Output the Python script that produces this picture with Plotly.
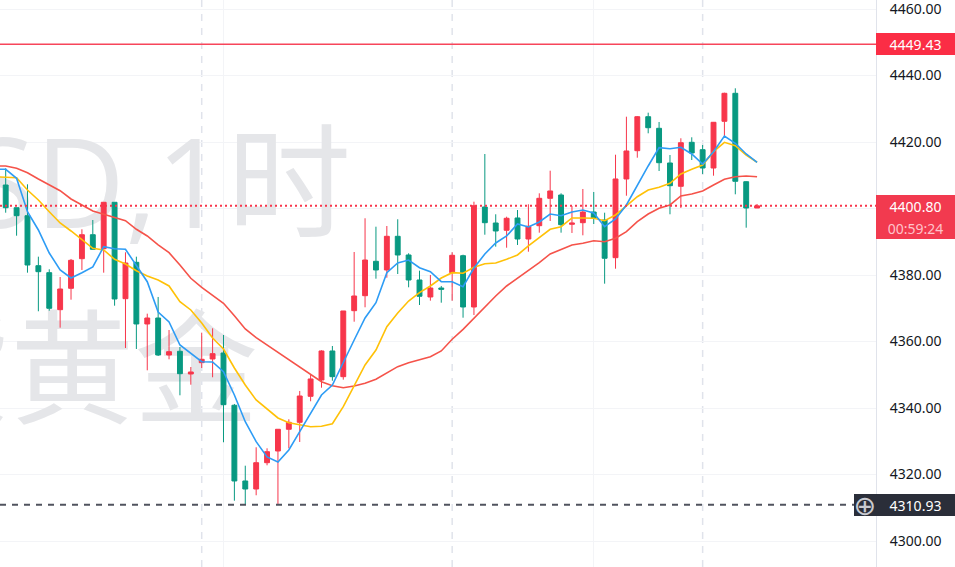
import plotly.graph_objects as go

# bar numbers, red = up, green = down
bars = list(range(70))
ma_bars = list(range(-1, 70))

opens = [4407.07, 4400.24, 4397.84, 4382.80, 4380.70, 4369.57, 4376.00, 4384.91, 4392.12, 4387.91,
         4401.87, 4372.88, 4383.82, 4365.27, 4367.07, 4355.94, 4357.06, 4350.23, 4353.63, 4354.74,
         4356.55, 4340.82, 4318.05, 4315.64, 4323.55, 4327.07, 4333.60, 4335.70, 4343.52, 4348.42,
         4357.15, 4349.42, 4369.27, 4373.78, 4384.12, 4381.51, 4391.64, 4386.02, 4378.50, 4373.39,
         4376.09, 4380.70, 4385.81, 4370.38, 4400.45, 4395.64, 4393.45, 4397.15, 4390.83, 4394.83,
         4403.07, 4404.06, 4395.25, 4395.73, 4398.95, 4396.54, 4385.21, 4408.88, 4417.39, 4427.61,
         4424.12, 4413.69, 4406.68, 4419.91, 4417.69, 4412.18, 4426.23, 4434.65, 4408.06, 4400.15]
highs = [4412.09, 4400.24, 4407.28, 4385.51, 4381.72, 4379.40, 4384.82, 4393.75, 4396.54, 4401.87,
         4401.87, 4386.83, 4385.51, 4368.37, 4373.39, 4363.46, 4358.35, 4352.33, 4362.65, 4363.97,
         4361.96, 4341.21, 4322.65, 4328.19, 4327.88, 4333.60, 4336.61, 4345.12, 4349.93, 4357.36,
         4358.65, 4369.18, 4386.92, 4397.06, 4394.53, 4394.74, 4396.76, 4386.53, 4381.30, 4380.00,
         4376.70, 4386.83, 4386.11, 4402.05, 4416.39, 4398.26, 4397.54, 4399.55, 4401.27, 4404.57,
         4411.37, 4404.57, 4400.76, 4405.87, 4404.97, 4398.74, 4416.18, 4427.61, 4427.82, 4428.82,
         4426.02, 4416.09, 4421.12, 4421.42, 4419.10, 4426.02, 4434.83, 4436.15, 4408.18, 4401.36]
lows = [4398.74, 4391.82, 4380.70, 4369.09, 4369.27, 4364.15, 4372.58, 4381.51, 4387.73, 4380.70,
        4370.77, 4358.05, 4357.75, 4351.34, 4355.64, 4354.65, 4343.82, 4347.01, 4352.03, 4349.24,
        4329.69, 4312.12, 4310.92, 4313.75, 4322.77, 4310.93, 4327.88, 4329.78, 4342.02, 4346.11,
        4348.21, 4348.52, 4365.96, 4370.29, 4378.89, 4379.19, 4380.30, 4376.30, 4370.98, 4372.28,
        4371.67, 4372.28, 4367.16, 4367.97, 4392.12, 4388.52, 4388.21, 4389.03, 4387.01, 4392.73,
        4396.24, 4392.73, 4392.64, 4391.94, 4395.34, 4377.39, 4381.90, 4403.85, 4415.28, 4422.62,
        4411.28, 4398.26, 4400.15, 4414.59, 4410.38, 4409.87, 4421.42, 4404.27, 4394.23, 4400.15]
closes = [4400.24, 4397.84, 4383.01, 4381.00, 4369.99, 4375.79, 4384.42, 4392.12, 4387.73, 4401.87,
          4372.79, 4383.61, 4365.27, 4367.07, 4355.94, 4356.94, 4350.32, 4350.83, 4354.65, 4356.34,
          4341.00, 4318.05, 4315.64, 4323.55, 4326.86, 4333.60, 4335.70, 4343.61, 4348.73, 4357.15,
          4349.42, 4369.18, 4373.69, 4384.51, 4381.51, 4391.64, 4386.02, 4378.50, 4373.60, 4376.09,
          4375.70, 4385.93, 4370.38, 4400.85, 4395.73, 4393.24, 4397.06, 4390.83, 4394.65, 4403.07,
          4405.27, 4395.13, 4395.64, 4398.95, 4397.15, 4385.03, 4408.88, 4417.30, 4427.61, 4424.30,
          4413.78, 4406.86, 4419.79, 4416.70, 4412.18, 4425.93, 4434.65, 4408.18, 4400.15, 4400.80]

ma_blue = [4411.79, 4411.79, 4409.09, 4399.04, 4393.54, 4386.62, 4381.51, 4379.10, 4380.70, 4382.41,
           4388.52, 4387.91, 4387.73, 4382.80, 4377.99, 4368.88, 4365.87, 4358.95, 4356.55, 4353.93,
           4353.84, 4350.92, 4343.91, 4335.88, 4329.87, 4325.27, 4323.76, 4327.37, 4332.88, 4338.50,
           4343.91, 4346.92, 4353.84, 4360.45, 4367.07, 4371.67, 4380.70, 4383.61, 4384.51, 4382.20,
           4381.00, 4377.99, 4377.99, 4376.49, 4382.11, 4386.32, 4389.63, 4391.73, 4395.34, 4394.44,
           4395.94, 4398.35, 4397.84, 4398.95, 4399.55, 4398.65, 4394.53, 4396.85, 4401.06, 4407.07,
           4412.79, 4418.29, 4417.99, 4418.41, 4416.39, 4413.39, 4417.09, 4421.81, 4419.61, 4416.39,
           4413.90]
ma_yellow = [4409.57, 4409.39, 4409.27, 4405.57, 4402.56, 4399.04, 4395.64, 4393.24, 4390.53, 4388.03,
             4387.52, 4384.73, 4383.31, 4381.30, 4379.70, 4378.50, 4376.70, 4371.97, 4369.48, 4365.57,
             4361.06, 4357.75, 4352.03, 4346.92, 4342.41, 4339.70, 4337.00, 4335.58, 4334.89, 4334.38,
             4334.50, 4335.28, 4340.40, 4346.92, 4352.94, 4357.45, 4364.46, 4368.58, 4372.18, 4374.68,
             4376.70, 4379.10, 4380.70, 4380.52, 4382.32, 4383.40, 4383.61, 4384.73, 4386.02, 4388.73,
             4391.34, 4393.75, 4394.53, 4397.15, 4397.15, 4397.06, 4396.34, 4398.05, 4400.76, 4403.55,
             4405.57, 4406.38, 4407.58, 4410.38, 4411.79, 4413.09, 4417.09, 4419.91, 4418.89, 4416.09,
             4413.90]
ma_red = [4412.79, 4412.79, 4412.09, 4410.77, 4408.88, 4407.07, 4405.36, 4402.86, 4401.06, 4399.25,
          4398.26, 4397.24, 4396.34, 4393.75, 4391.73, 4389.03, 4386.71, 4383.01, 4379.01, 4376.30,
          4373.99, 4371.49, 4367.76, 4363.76, 4361.15, 4358.95, 4356.64, 4354.44, 4352.25, 4349.93,
          4347.91, 4346.71, 4346.11, 4346.62, 4347.43, 4348.64, 4350.62, 4352.43, 4353.63, 4354.53,
          4355.43, 4357.15, 4360.67, 4363.67, 4366.98, 4370.47, 4373.69, 4376.70, 4379.01, 4381.51,
          4383.70, 4386.32, 4387.73, 4389.03, 4389.54, 4390.32, 4390.02, 4391.04, 4393.03, 4396.03,
          4398.35, 4400.06, 4401.06, 4403.76, 4404.36, 4405.27, 4407.07, 4408.79, 4409.57, 4409.78,
          4409.57]

price_ticks = [4300, 4320, 4340, 4360, 4380, 4400, 4420, 4440, 4460]
grid_bars = [20, 54]
session_bars = [18, 41, 64]

high_price = 4449.43
last_price = 4400.80
low_price = 4310.93
countdown = "00:59:24"

watermark_text = ["XAUUSD,", "1时", "现货黄金"]

RED = "#f7364b"
GREEN = "#089981"
GRID = "#f3f4f7"
AXIS = "#e0e3eb"
X_RANGE = [-0.523, 79.92]
Y_RANGE = [4292.18, 4462.71]
DOMAIN = [0, 876 / 955]

fig = go.Figure()

# watermark sits on the base axes so the candles on the overlay go over it
fig.add_trace(go.Scatter(
    x=[13.9, 31.7, 23.2], y=[4403.5, 4403.5, 4347.5],
    mode="text", text=watermark_text, textposition="middle left",
    textfont=dict(family="Open Sans, Noto Sans CJK SC", size=124, color="#e5e6e9"),
    hoverinfo="skip", showlegend=False))

fig.add_trace(go.Candlestick(
    x=bars, open=opens, high=highs, low=lows, close=closes,
    xaxis="x2", yaxis="y2", whiskerwidth=0, showlegend=False,
    increasing=dict(line=dict(color=RED, width=1), fillcolor=RED),
    decreasing=dict(line=dict(color=GREEN, width=1), fillcolor=GREEN)))

for values, color in [(ma_red, "#f5534a"), (ma_yellow, "#ffc107"), (ma_blue, "#2d9cf5")]:
    fig.add_trace(go.Scatter(
        x=ma_bars, y=values, mode="lines", xaxis="x2", yaxis="y2",
        line=dict(color=color, width=1.6), hoverinfo="skip", showlegend=False))

shapes = []
for b in session_bars:
    shapes.append(dict(type="line", layer="below", xref="x", yref="paper", x0=b, x1=b, y0=0, y1=1,
                       line=dict(color=AXIS, width=1.5, dash="7px,7px")))
shapes.append(dict(type="line", xref="paper", yref="y", x0=0, x1=DOMAIN[1], y0=high_price, y1=high_price,
                   line=dict(color="#f7455a", width=1.5)))
shapes.append(dict(type="line", xref="paper", yref="y", x0=0, x1=DOMAIN[1], y0=last_price, y1=last_price,
                   line=dict(color=RED, width=2, dash="2px,3px")))
shapes.append(dict(type="line", xref="paper", yref="y", x0=0, x1=855 / 955, y0=low_price, y1=low_price,
                   line=dict(color="#50535e", width=2, dash="6px,6px")))


def tag(text, y, left, width, bg, color="#ffffff", size=14, family="Noto Sans", yshift=0):
    return dict(text=text, xref="paper", yref="y", x=left / 955, y=y, xanchor="left", yanchor="middle",
                yshift=yshift, width=width, height=22, align="center", valign="middle", bgcolor=bg,
                borderpad=0, borderwidth=0, showarrow=False, font=dict(family=family, size=size, color=color))


annotations = [
    tag(f"{high_price:.2f}", high_price, 876, 79, "#fb2d45"),
    tag(f"{last_price:.2f}", last_price, 876, 79, "#f23a4f"),
    tag(countdown, last_price, 876, 79, "#f23a4f", color="#ffc3ca", yshift=-22),
    tag("⊕", low_price, 854, 22, "#2a2e39", color="#c8cad0", size=27, family="DejaVu Sans"),
    tag(f"{low_price:.2f}", low_price, 876, 79, "#2a2e39"),
]

fig.update_layout(
    width=955, height=567,
    margin=dict(l=0, r=0, t=0, b=0),
    paper_bgcolor="#ffffff", plot_bgcolor="#ffffff",
    showlegend=False, boxgap=0.36,
    shapes=shapes, annotations=annotations,
    xaxis=dict(domain=DOMAIN, range=X_RANGE, tickvals=grid_bars, showticklabels=False, ticks="",
               showgrid=True, gridcolor=GRID, gridwidth=1, zeroline=False, fixedrange=True),
    yaxis=dict(range=Y_RANGE, side="right", tickvals=price_ticks, tickformat=".2f", ticks="outside",
               ticklen=10, tickcolor="rgba(0,0,0,0)", ticklabeloverflow="allow",
               tickfont=dict(family="Noto Sans", size=14, color="#131722"),
               showgrid=True, gridcolor=GRID, gridwidth=1, zeroline=False, showline=True, linecolor=AXIS,
               linewidth=1, fixedrange=True),
    xaxis2=dict(domain=DOMAIN, range=X_RANGE, overlaying="x", visible=False, rangeslider=dict(visible=False),
                fixedrange=True),
    yaxis2=dict(range=Y_RANGE, overlaying="y", visible=False, fixedrange=True),
)

fig.write_html("out.html", post_script="document.body.style.margin='0';", config=dict(displayModeBar=False))
